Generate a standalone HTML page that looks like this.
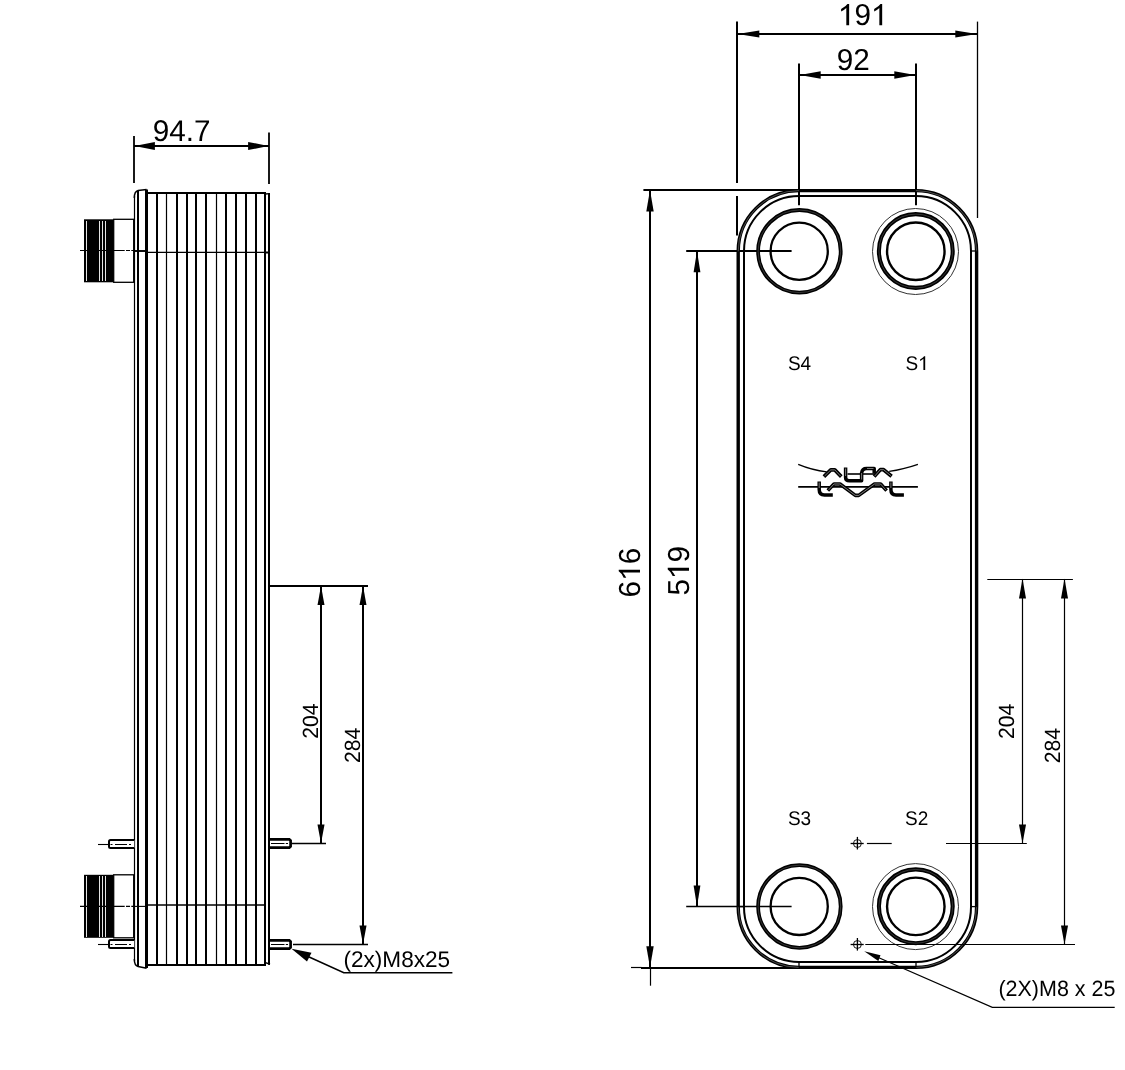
<!DOCTYPE html>
<html><head><meta charset="utf-8">
<style>
html,body{margin:0;padding:0;background:#fff;width:1125px;height:1070px;overflow:hidden;}
svg{display:block;will-change:transform;}
text{font-family:"Liberation Sans",sans-serif;fill:#000;}
</style></head>
<body>
<svg width="1125" height="1070" viewBox="0 0 1125 1070">
<rect x="0" y="0" width="1125" height="1070" fill="#fff"/>
<!-- ============ LEFT VIEW ============ -->
<g stroke="#000" fill="none" stroke-width="1.8">
  <line x1="134" y1="136" x2="134" y2="183"/>
  <line x1="269" y1="132.5" x2="269" y2="184"/>
  <line x1="134" y1="146" x2="269" y2="146"/>
</g>
<g fill="#000">
  <polygon points="134.5,146 154.9,141.9 154.9,150.1"/>
  <polygon points="268.5,146 248.1,141.9 248.1,150.1"/>
</g>

<!-- body plates -->
<g stroke="#000" fill="none">
  <line x1="134.5" y1="196" x2="134.5" y2="961" stroke-width="1.2"/>
  <line x1="138" y1="191" x2="138" y2="966.5" stroke-width="2"/>
  <line x1="146.5" y1="189.5" x2="146.5" y2="968" stroke-width="3"/>
  <line x1="157" y1="192" x2="157" y2="965" stroke-width="2"/>
  <line x1="166.5" y1="192" x2="166.5" y2="965" stroke-width="1.2"/>
  <line x1="177" y1="192" x2="177" y2="965" stroke-width="2"/>
  <line x1="187" y1="192" x2="187" y2="965" stroke-width="2"/>
  <line x1="196" y1="192" x2="196" y2="965" stroke-width="2"/>
  <line x1="206" y1="192" x2="206" y2="965" stroke-width="2"/>
  <line x1="216.5" y1="192" x2="216.5" y2="965" stroke-width="1.2"/>
  <line x1="226" y1="192" x2="226" y2="965" stroke-width="2"/>
  <line x1="236" y1="192" x2="236" y2="965" stroke-width="2"/>
  <line x1="246" y1="192" x2="246" y2="965" stroke-width="2"/>
  <line x1="256" y1="192" x2="256" y2="965" stroke-width="2"/>
  <line x1="265" y1="192" x2="265" y2="965" stroke-width="2"/>
  <line x1="269" y1="193" x2="269" y2="964.8" stroke-width="2"/>
  <line x1="146" y1="193" x2="266" y2="193" stroke-width="2"/>
  <line x1="146" y1="965" x2="266" y2="965" stroke-width="2"/>
  <line x1="265" y1="194" x2="270" y2="193.6" stroke-width="1.4"/>
  <line x1="265.5" y1="962.6" x2="270" y2="964.3" stroke-width="1.5"/>
  <path d="M134.3,198 Q134.3,191.5 138.1,190.6 L146.6,189.5" stroke-width="1.5"/>
  <path d="M134.3,959 Q134.3,965.5 138.1,966.6 L146.6,968.2" stroke-width="1.5"/>
  <!-- center lines -->
  <line x1="146" y1="252.3" x2="265" y2="252.3" stroke-width="1.3"/>
  <line x1="146" y1="905" x2="265" y2="905" stroke-width="1.6"/>
  <line x1="265" y1="252.5" x2="269" y2="252.5" stroke-width="2"/>
  <line x1="133.2" y1="251" x2="145.5" y2="251" stroke-width="1.9"/>
  <line x1="133.2" y1="906.4" x2="145.5" y2="906.4" stroke-width="1.1"/>
</g>

<!-- connectors -->
<g>
  <rect x="84" y="219.3" width="29.7" height="63" fill="#000"/>
  <rect x="113.7" y="219.3" width="20" height="63" fill="#fff" stroke="#000" stroke-width="1.3"/>
  <line x1="86.5" y1="221" x2="86.5" y2="281" stroke="#fff" stroke-width="0.9"/>
  <line x1="99.5" y1="221" x2="99.5" y2="281" stroke="#fff" stroke-width="0.9"/>
  <line x1="102.5" y1="221" x2="102.5" y2="281" stroke="#fff" stroke-width="0.9"/>
  <line x1="105.5" y1="221" x2="105.5" y2="281" stroke="#fff" stroke-width="0.9"/>
  <line x1="80" y1="250.5" x2="134" y2="250.5" stroke="#000" stroke-width="1.1" stroke-dasharray="44.7,1.3,4,1.3,100"/>

  <rect x="84" y="874.8" width="29.7" height="63" fill="#000"/>
  <rect x="113.7" y="874.8" width="20" height="63" fill="#fff" stroke="#000" stroke-width="1.3"/>
  <line x1="86.5" y1="876" x2="86.5" y2="937" stroke="#fff" stroke-width="0.9"/>
  <line x1="99.5" y1="876" x2="99.5" y2="937" stroke="#fff" stroke-width="0.9"/>
  <line x1="102.5" y1="876" x2="102.5" y2="937" stroke="#fff" stroke-width="0.9"/>
  <line x1="105.5" y1="876" x2="105.5" y2="937" stroke="#fff" stroke-width="0.9"/>
  <line x1="80" y1="906.4" x2="134" y2="906.4" stroke="#000" stroke-width="1.1" stroke-dasharray="44.7,1.3,4,1.3,100"/>
</g>

<!-- studs -->
<g stroke="#000" fill="#fff" stroke-width="2">
  <path d="M134.3,840 L110.5,840 Q109,840 109,841.5 L109,846.5 Q109,848 110.5,848 L134.3,848"/>
  <path d="M134.3,940 L110.5,940 Q109,940 109,941.5 L109,946.5 Q109,948 110.5,948 L134.3,948"/>
</g>
<g stroke="#000" fill="#fff" stroke-width="2.7">
  <path d="M270,839.3 L289.3,839.3 L290.6,840.6 L290.6,846.4 L289.3,847.6 L270,847.6"/>
  <path d="M270,940.3 L289.3,940.3 L290.6,941.6 L290.6,947.4 L289.3,948.6 L270,948.6"/>
</g>
<g stroke="#000" stroke-width="1.1">
  <line x1="98" y1="844.5" x2="109" y2="844.5"/>
  <line x1="98" y1="944.5" x2="109" y2="944.5"/>
  <line x1="110.5" y1="844.5" x2="134" y2="844.5" stroke-dasharray="2,2.5,12,2,2,5"/>
  <line x1="110.5" y1="944.5" x2="134" y2="944.5" stroke-dasharray="2,2.5,12,2,2,5"/>
  <line x1="271" y1="843.5" x2="288" y2="843.5" stroke-dasharray="13.5,1.3,100"/>
  <line x1="271" y1="944.5" x2="288" y2="944.5" stroke-dasharray="13.5,1.3,100"/>
</g>

<!-- dims 204 / 284 left -->
<g stroke="#000" fill="none" stroke-width="1.3">
  <line x1="269" y1="586" x2="368" y2="586" stroke-width="2"/>
  <line x1="291.5" y1="843.5" x2="326" y2="843.5"/>
  <line x1="293" y1="944.5" x2="368" y2="944.5"/>
</g>
<g stroke="#000" fill="none" stroke-width="1.9">
  <line x1="321" y1="586" x2="321" y2="843.5" stroke-width="2"/>
  <line x1="363" y1="586" x2="363" y2="944.5" stroke-width="2"/>
</g>
<g fill="#000">
  <polygon points="321,586 317.5,605 324.5,605"/>
  <polygon points="321,843.5 317.5,824.5 324.5,824.5"/>
  <polygon points="363,586 359.5,605 366.5,605"/>
  <polygon points="363,944.5 359.5,925.5 366.5,925.5"/>
</g>

<!-- leader left -->
<g stroke="#000" fill="none" stroke-width="1.6">
  <polyline points="297,951.5 343.8,972.7 452.4,972.7"/>
</g>
<polygon points="291.5,948.8 311.5,952.8 307,961.5" fill="#000"/>

<!-- ============ RIGHT VIEW ============ -->
<!-- dim 191 / 92 -->
<g stroke="#000" fill="none" stroke-width="2">
  <line x1="737" y1="21.6" x2="737" y2="183"/>
  <line x1="737" y1="196" x2="737" y2="235.5"/>
  <line x1="799" y1="63.4" x2="799" y2="205.2"/>
  <line x1="916" y1="63.4" x2="916" y2="205.2"/>
  <line x1="737" y1="34" x2="977" y2="34"/>
  <line x1="799" y1="75" x2="916" y2="75"/>
</g>
<line x1="977.5" y1="21.6" x2="977.5" y2="218" stroke="#000" stroke-width="1.3"/>
<g fill="#000">
  <polygon points="737.6,34 759.3,30.4 759.3,37.6"/>
  <polygon points="977,34 955.3,30.4 955.3,37.6"/>
  <polygon points="799.8,75 820.7,71.2 820.7,78.8"/>
  <polygon points="915.2,75 894.3,71.2 894.3,78.8"/>
</g>

<!-- dim 616 / 519 -->
<g stroke="#000" fill="none" stroke-width="1.9">
  <line x1="643.4" y1="190" x2="800" y2="190" stroke-width="2"/>
  <line x1="631" y1="967.5" x2="641.5" y2="967.5" stroke-width="1.2"/>
  <line x1="641" y1="968" x2="800" y2="968" stroke-width="1.8"/>
  <line x1="650" y1="190" x2="650" y2="967.5" stroke-width="2"/>
  <line x1="686.2" y1="251" x2="791.6" y2="251" stroke-width="2"/>
  <line x1="686.2" y1="906.5" x2="791.6" y2="906.5" stroke-width="1.3"/>
  <line x1="697" y1="251" x2="697" y2="906.5" stroke-width="2"/>
</g>
<line x1="650.5" y1="967" x2="650.5" y2="985.7" stroke="#000" stroke-width="1.2"/>
<g fill="#000">
  <polygon points="650,190 646.3,211.4 653.7,211.4"/>
  <polygon points="650,967.4 646.3,946.2 653.7,946.2"/>
  <polygon points="697,251 693.6,272.3 700.4,272.3"/>
  <polygon points="697,906.5 693.6,885.4 700.4,885.4"/>
</g>

<!-- plate outline -->
<g stroke="#000" fill="none">
  <rect x="738.2" y="190.6" width="238.4" height="776.8" rx="60.7" ry="60.7" stroke-width="3.4"/>
  <rect x="744" y="196" width="227" height="766" rx="55" ry="55" stroke-width="2"/>
  <path d="M738.2,251.3 A60.7,60.7 0 0 1 798.9,190.6 M915.9,190.6 A60.7,60.7 0 0 1 976.6,251.3 M976.6,906.7 A60.7,60.7 0 0 1 915.9,967.4 M798.9,967.4 A60.7,60.7 0 0 1 738.2,906.7" stroke-width="0.6" stroke="#fff" stroke-opacity="0.5"/>
  <g stroke-width="1.3">
    <line x1="971" y1="251" x2="976.6" y2="251"/>
    <line x1="971" y1="906.6" x2="976.6" y2="906.6"/>
    <line x1="738.2" y1="906.6" x2="744" y2="906.6"/>
    <line x1="799" y1="962" x2="799" y2="967.4"/>
    <line x1="916" y1="962" x2="916" y2="967.4"/>
  </g>
</g>

<!-- ports -->
<g stroke="#000" fill="none">
  <circle cx="799.4" cy="251.3" r="41.3" stroke-width="3.8"/>
  <circle cx="799.2" cy="251.2" r="28.6" stroke-width="2.3"/>
  <circle cx="799.4" cy="906.5" r="41.3" stroke-width="3.8"/>
  <circle cx="799.2" cy="906.4" r="28.6" stroke-width="2.3"/>

  <circle cx="915.5" cy="251.5" r="43" stroke-width="1" stroke="#333"/>
  <circle cx="915.8" cy="251" r="36.9" stroke-width="4.1"/>
  <circle cx="915.8" cy="251.2" r="28.75" stroke-width="2.4"/>
  <circle cx="915.5" cy="906.6" r="43" stroke-width="1" stroke="#333"/>
  <circle cx="915.8" cy="906.3" r="36.9" stroke-width="4.1"/>
  <circle cx="915.8" cy="906.4" r="28.75" stroke-width="2.4"/>
  <g stroke="#fff" stroke-opacity="0.35" stroke-width="0.6">
    <circle cx="799.4" cy="251.3" r="41.3"/>
    <circle cx="799.4" cy="906.5" r="41.3"/>
    <circle cx="915.8" cy="251" r="36.9"/>
    <circle cx="915.8" cy="906.3" r="36.9"/>
  </g>
</g>

<!-- labels -->

<!-- logo -->
<g stroke="#000" fill="none" stroke-linejoin="round">
  <path d="M798.2,464.4 Q812,470.2 826.7,471.8" stroke-width="1.3"/>
  <path d="M889.2,471.4 Q903,469.6 917.9,464.4" stroke-width="1.3"/>
  <line x1="798.2" y1="486.8" x2="917.9" y2="486.8" stroke-width="1.8"/>
  <line x1="847.5" y1="474" x2="874.8" y2="474" stroke-width="1.6"/>
  <path d="M823.9,476.6 L830.8,469.9 L834.8,469.9 L841.3,476.6" stroke-width="3.7"/>
  <path d="M845.6,467.4 L845.6,477.5 Q845.6,480.8 849.5,480.8 L861.6,480.8 L861.6,473 Q862.3,468.5 866.5,468.5 L874.2,468.5 L874.2,473.5" stroke-width="3.5"/>
  <path d="M874.1,476.6 L880.3,469.7 L883.6,469.7 L891.6,476.2" stroke-width="3.7"/>
  <path d="M819.2,481.5 L819.2,489.5 Q819.2,494.9 824.5,494.9 L832.8,494.9" stroke-width="3.5"/>
  <path d="M827.8,490.6 L834,484 L840,484 L855.3,495.4 L858.7,495.4 L874.5,484 L880.6,484 L886.6,490.6" stroke-width="3.6"/>
  <path d="M890.9,481.5 L890.9,489.5 Q890.9,494.9 896,494.9 L903.9,494.9" stroke-width="3.5"/>
  <g stroke="#fff" stroke-opacity="0.6" stroke-width="0.8">
    <path d="M824.6,476 L830.8,469.9 L834.8,469.9 L840.6,476"/>
    <path d="M845.6,468.5 L845.6,476"/>
    <path d="M861.6,473 L861.6,479.5"/>
    <path d="M867,468.5 L873.5,468.5"/>
    <path d="M874.8,476 L880.3,469.7 L883.6,469.7 L890.8,475.6"/>
    <path d="M828.6,489.9 L834,484 L840,484 L855.3,495.4 L858.7,495.4 L874.5,484 L880.6,484 L885.8,489.9"/>
    <path d="M819.2,482.5 L819.2,488"/>
    <path d="M890.9,482.5 L890.9,488"/>
  </g>
</g>

<!-- crosshairs -->
<g stroke="#000" fill="none">
  <circle cx="857.4" cy="843.5" r="3.95" stroke-width="0.9"/>
  <line x1="850.6" y1="843.5" x2="863.7" y2="843.5" stroke-width="1.3"/>
  <line x1="857.4" y1="836.9" x2="857.4" y2="849.5" stroke-width="1.3"/>
  <circle cx="857.4" cy="944.5" r="3.95" stroke-width="0.9"/>
  <line x1="850.6" y1="944.5" x2="863.7" y2="944.5" stroke-width="1.3"/>
  <line x1="857.4" y1="938" x2="857.4" y2="950.6" stroke-width="1.3"/>
</g>

<!-- dims 204 / 284 right -->
<g stroke="#000" fill="none" stroke-width="1.2">
  <line x1="987.3" y1="579.5" x2="1072.9" y2="579.5"/>
  <line x1="866.9" y1="843.5" x2="891.7" y2="843.5"/>
  <line x1="946" y1="843.5" x2="1026.8" y2="843.5"/>
  <line x1="865.3" y1="944.5" x2="1075" y2="944.5"/>
  <line x1="1022.5" y1="579.5" x2="1022.5" y2="843.5"/>
  <line x1="1064.5" y1="579.5" x2="1064.5" y2="944.5"/>
</g>
<g fill="#000">
  <polygon points="1022.5,578.6 1019,598.6 1026,598.6"/>
  <polygon points="1022.5,843.5 1019,824.5 1026,824.5"/>
  <polygon points="1064.5,578.6 1061,598.6 1068,598.6"/>
  <polygon points="1064.5,944.5 1061,925.5 1068,925.5"/>
</g>

<!-- leader right -->
<polyline points="872,954.8 992.3,1007.3 1114.7,1007.3" stroke="#000" fill="none" stroke-width="1.2"/>
<polygon points="864.2,951.3 880.5,955.2 878.3,961" fill="#000"/>

<g text-rendering="geometricPrecision" fill="#000">
<text transform="translate(152.7,140.7) scale(1,1.01)" font-size="29.7">94.7</text>
<g transform="translate(838.0,25.3) scale(1,1.02)"><path transform="translate(0.000,0) scale(29.7)" d="M0.375,0 L0.375,-0.70 L0.318,-0.70 Q0.27,-0.62 0.105,-0.537 L0.105,-0.452 Q0.2,-0.5 0.28,-0.57 L0.28,0 Z"/><text x="16.518" y="0" font-size="29.7">9</text><path transform="translate(33.035,0) scale(29.7)" d="M0.375,0 L0.375,-0.70 L0.318,-0.70 Q0.27,-0.62 0.105,-0.537 L0.105,-0.452 Q0.2,-0.5 0.28,-0.57 L0.28,0 Z"/></g>
<text transform="translate(836.7,69.9) scale(1,1.02)" font-size="29.7">92</text>
<g transform="translate(640,597.4) rotate(-90) scale(1,1.02)"><text x="0" y="0" font-size="29.8">6</text><path transform="translate(16.573,0) scale(29.8)" d="M0.375,0 L0.375,-0.70 L0.318,-0.70 Q0.27,-0.62 0.105,-0.537 L0.105,-0.452 Q0.2,-0.5 0.28,-0.57 L0.28,0 Z"/><text x="33.147" y="0" font-size="29.8">6</text></g>
<g transform="translate(689,595.6) rotate(-90) scale(1,1.02)"><text x="0" y="0" font-size="29.8">5</text><path transform="translate(16.573,0) scale(29.8)" d="M0.375,0 L0.375,-0.70 L0.318,-0.70 Q0.27,-0.62 0.105,-0.537 L0.105,-0.452 Q0.2,-0.5 0.28,-0.57 L0.28,0 Z"/><text x="33.147" y="0" font-size="29.8">9</text></g>
<text transform="translate(317.9,738.8) rotate(-90) scale(1,1.04)" font-size="21.2">204</text>
<text transform="translate(360,763) rotate(-90) scale(1,1.04)" font-size="21.2">284</text>
<text transform="translate(1014,739.1) rotate(-90) scale(1,1.04)" font-size="21.2">204</text>
<text transform="translate(1060.2,763.3) rotate(-90) scale(1,1.04)" font-size="21.2">284</text>
<text transform="translate(343.4,966.9)" font-size="22.6">(2x)M8x25</text>
<text transform="translate(998.4,996) scale(1,1.03)" font-size="21.5">(2X)M8 x 25</text>
<text transform="translate(787.9,370) scale(1,1.04)" font-size="19">S4</text>
<g transform="translate(905.4,370) scale(1,1.04)"><text x="0" y="0" font-size="19">S</text><path transform="translate(12.673,0) scale(19)" d="M0.375,0 L0.375,-0.70 L0.318,-0.70 Q0.27,-0.62 0.105,-0.537 L0.105,-0.452 Q0.2,-0.5 0.28,-0.57 L0.28,0 Z"/></g>
<text transform="translate(787.9,825.4) scale(1,1.04)" font-size="19">S3</text>
<text transform="translate(905,825.4) scale(1,1.04)" font-size="19">S2</text>
</g>
</svg>
</body></html>
